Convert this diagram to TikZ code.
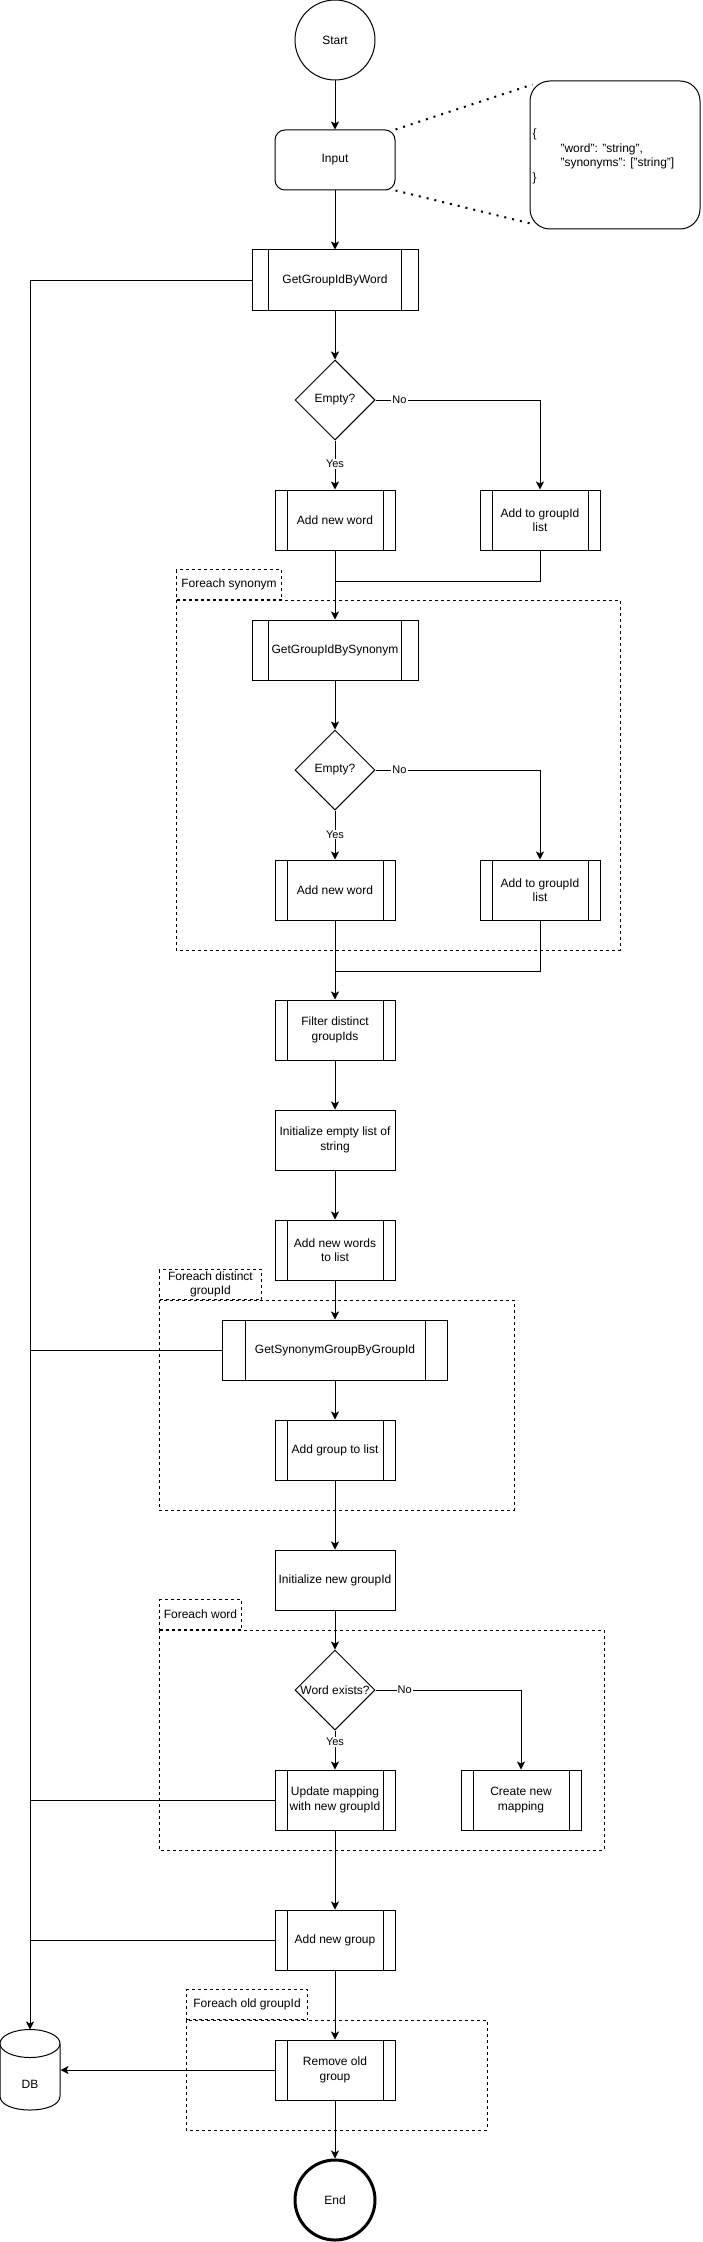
\documentclass[tikz,border=0pt]{standalone}
\usepackage{fontspec}
\setmainfont{Liberation Sans}
\usetikzlibrary{arrows.meta,shapes.geometric}

\begin{document}
\begin{tikzpicture}[x=1pt, y=-1pt, line width=1pt,
  >={Stealth[length=8pt,width=8pt,inset=2pt]},
  font=\fontsize{12}{14.5}\selectfont,
  terminal/.style={circle, draw, minimum size=80pt, inner sep=0pt},
  procbox/.style={rectangle, draw, minimum width=120pt, minimum height=60pt, inner sep=0pt, align=center},
  subbox/.style={procbox, path picture={
      \draw ([xshift=#1]path picture bounding box.north west) -- ([xshift=#1]path picture bounding box.south west);
      \draw ([xshift=-#1]path picture bounding box.north east) -- ([xshift=-#1]path picture bounding box.south east);}},
  subbox/.default=12pt,
  decision/.style={diamond, draw, minimum width=80pt, minimum height=80pt, inner sep=0pt},
  edgelabel/.style={fill=white, inner sep=1pt, font=\fontsize{11}{13}\selectfont},
  loopbox/.style={draw, dash pattern=on 3pt off 3pt},
  looplabel/.style={loopbox, minimum height=30pt, inner sep=0pt, align=center, anchor=south west},
  dotline/.style={line width=2pt, dash pattern=on 2pt off 6pt}
]
\useasboundingbox (0,0) rectangle (702,2242);
\fill[white] (0,0) rectangle (702,2242);

% Loop containers
\draw[loopbox] (176,600) rectangle (620,950);
\node[looplabel, minimum width=105pt] (lblsyn) at (176,600) {Foreach synonym};
\draw[loopbox] (159,1300) rectangle (514,1510);
\node[looplabel, minimum width=102pt] (lbldistinct) at (159,1300) {Foreach distinct\\groupId};
\draw[loopbox] (159,1630) rectangle (604,1850);
\node[looplabel, minimum width=82pt] (lblword) at (159,1630) {Foreach word};
\draw[loopbox] (186,2020) rectangle (487,2130);
\node[looplabel, minimum width=121pt] (lblold) at (186,2020) {Foreach old groupId};

% Start and input
\node[terminal] (start) at (335,40) {Start};
\node[procbox, rounded corners=10pt] (input) at (335,160) {Input};
\node[draw, rounded corners=20pt, minimum width=170pt, minimum height=148pt, inner sep=0pt] (json) at (615,155) {};
\node[anchor=west, align=left, inner sep=0pt] (jsontext) at (532,156.5)
  {\{\\\hspace*{28pt}"word": "string",\\\hspace*{28pt}"synonyms": ["string"]\\\}};
\draw[dotline] (input.north east) -- ([xshift=3pt,yshift=-4pt]json.north west);
\draw[dotline] (input.south east) -- ([xshift=1pt,yshift=6pt]json.south west);

% Word lookup
\node[subbox=16.6pt, minimum width=166pt] (getword) at (335,280) {GetGroupIdByWord};
\node[decision] (empty1) at (335,400) {Empty?};
\node[subbox] (addword1) at (335,520) {Add new word};
\node[subbox] (addlist1) at (540,520) {Add to groupId\\list};
\coordinate (join1) at (335,581);

% Synonym lookup
\node[subbox=16.6pt, minimum width=166pt] (getsyn) at (335,650) {GetGroupIdBySynonym};
\node[decision] (empty2) at (335,770) {Empty?};
\node[subbox] (addword2) at (335,890) {Add new word};
\node[subbox] (addlist2) at (540,890) {Add to groupId\\list};
\coordinate (join2) at (335,971);

% Group collection
\node[subbox] (filter) at (335,1030) {Filter distinct\\groupIds};
\node[procbox] (initlist) at (335,1140) {Initialize empty list of\\string};
\node[subbox] (addwords) at (335,1250) {Add new words\\to list};
\node[subbox=22.5pt, minimum width=225pt] (getgroup) at (335,1350) {GetSynonymGroupByGroupId};
\node[subbox] (addgroup) at (335,1450) {Add group to list};

% Mapping update
\node[procbox] (initgid) at (335,1580) {Initialize new groupId};
\node[decision] (exists) at (335,1690) {\makebox[0pt]{Word exists?}};
\node[subbox] (update) at (335,1800) {Update mapping\\with new groupId};
\node[subbox] (create) at (521,1800) {Create new\\mapping};
\node[subbox] (addnew) at (335,1940) {Add new group};
\node[subbox] (remove) at (335,2070) {Remove old\\group};
\node[terminal, line width=3pt] (end) at (335,2200) {End};

% Database
\node[minimum width=60pt, minimum height=80pt, inner sep=0pt] (db) at (30,2070) {};
\draw[fill=white] (0,2044) -- (0,2096) .. controls (0,2114.7) and (60,2114.7) .. (60,2096) -- (60,2044);
\draw[fill=white] (db.north) ++(0,14) ellipse [x radius=30pt, y radius=14pt];
\node (dbtext) at (30,2084) {DB};

% Flow
\draw[->] (start) -- (input);
\draw[->] (input) -- (getword);
\draw[->] (getword) -- (empty1);
\draw[->] (empty1.east) -| node[edgelabel, pos=0.073] {No} (addlist1.north);
\draw[->] (empty1) -- node[edgelabel, pos=0.48] {Yes} (addword1);
\draw (addlist1.south) |- (join1);
\draw[->] (addword1) -- (getsyn);
\draw[->] (getsyn) -- (empty2);
\draw[->] (empty2.east) -| node[edgelabel, pos=0.073] {No} (addlist2.north);
\draw[->] (empty2) -- node[edgelabel, pos=0.49] {Yes} (addword2);
\draw (addlist2.south) |- (join2);
\draw[->] (addword2) -- (filter);
\draw[->] (filter) -- (initlist);
\draw[->] (initlist) -- (addwords);
\draw[->] (addwords) -- (getgroup);
\draw[->] (getgroup) -- (addgroup);
\draw[->] (addgroup) -- (initgid);
\draw[->] (initgid) -- (exists);
\draw[->] (exists.east) -| node[edgelabel, pos=0.1] {No} (create.north);
\draw[->] (exists) -- node[edgelabel, pos=0.3] {Yes} (update);
\draw[->] (update) -- (addnew);
\draw[->] (addnew) -- (remove);
\draw[->] (remove) -- (end);

% Database access
\draw[->] (getword.west) -| (db.north);
\draw (getgroup.west) -- (getgroup.west -| db.north);
\draw (update.west) -- (update.west -| db.north);
\draw (addnew.west) -- (addnew.west -| db.north);
\draw[->] (remove.west) -- (remove.west -| db.east);

\end{tikzpicture}
\end{document}
